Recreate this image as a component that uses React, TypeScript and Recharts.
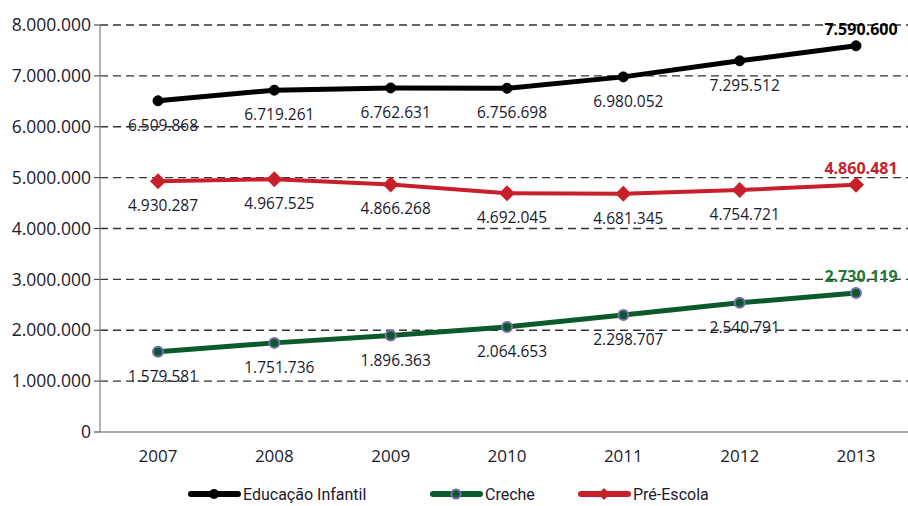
import { LineChart, Line, XAxis, YAxis, CartesianGrid, LabelList, Legend } from 'recharts'

const years = ['2007', '2008', '2009', '2010', '2011', '2012', '2013']
const educacaoInfantil = [6509868, 6719261, 6762631, 6756698, 6980052, 7295512, 7590600]
const preEscola = [4930287, 4967525, 4866268, 4692045, 4681345, 4754721, 4860481]
const creche = [1579581, 1751736, 1896363, 2064653, 2298707, 2540791, 2730119]
const yTicks = [0, 1000000, 2000000, 3000000, 4000000, 5000000, 6000000, 7000000, 8000000]

const data = years.map((year, i) => ({
  year,
  infantil: educacaoInfantil[i],
  pre: preEscola[i],
  creche: creche[i],
}))

const fmt = (v: number) => v.toLocaleString('de-DE')
const FONT = '"Open Sans", "Noto Sans", sans-serif'
const last = years.length - 1

const makeLabel = (color: string) => (props: any) => {
  const { x, y, value, index } = props
  if (index === last) {
    return (
      <text x={x + 5} y={y - 11} textAnchor="middle" fontFamily={FONT} fontSize={16} fontWeight="bold" fill={color}>
        {fmt(value)}
      </text>
    )
  }
  return (
    <text x={x + 5} y={y + 30} textAnchor="middle" fontFamily={FONT} fontSize={15.5} fill="#1a1a2e">
      {fmt(value)}
    </text>
  )
}

const Diamond = (props: any) => {
  const { cx, cy } = props
  if (cx == null || cy == null) return null
  return <path d={`M${cx},${cy - 8} L${cx + 8},${cy} L${cx},${cy + 8} L${cx - 8},${cy} Z`} fill="#c8202a" />
}

const legendItems = [
  { name: 'Educação Infantil', color: '#000', marker: 'dot', x: 188 },
  { name: 'Creche', color: '#0b5a2c', marker: 'ring', x: 430 },
  { name: 'Pré-Escola', color: '#c8202a', marker: 'diamond', x: 578 },
]

function LegendContent() {
  return (
    <svg width={908} height={24} style={{ display: 'block' }}>
      {legendItems.map((it) => (
        <g key={it.name}>
          <line x1={it.x + 3} y1={12} x2={it.x + 50} y2={12} stroke={it.color} strokeWidth={6} strokeLinecap="round" />
          {it.marker === 'dot' && <circle cx={it.x + 26} cy={12} r={5} fill={it.color} />}
          {it.marker === 'ring' && <circle cx={it.x + 26} cy={12} r={4.5} fill="#0b5a2c" stroke="#7a6cb0" strokeWidth={2} />}
          {it.marker === 'diamond' && (
            <path d={`M${it.x + 26},${6} L${it.x + 32},12 L${it.x + 26},18 L${it.x + 20},12 Z`} fill={it.color} />
          )}
          <text x={it.x + 55} y={18} fontFamily='Roboto, "Noto Sans", sans-serif' fontSize={16} fill="#1a1a2e">
            {it.name}
          </text>
        </g>
      ))}
    </svg>
  )
}

export default function App() {
  return (
    <div style={{ position: 'absolute', left: 0, top: 0, background: '#fff' }}>
      <LineChart width={908} height={506} data={data} margin={{ top: 25, right: 0, left: 0, bottom: 0 }}>
        <CartesianGrid vertical={false} stroke="#333" strokeDasharray="8 5" strokeWidth={1.3} />
        <XAxis
          dataKey="year"
          padding={{ left: 58, right: 52 }}
          axisLine={{ stroke: '#aaa', strokeWidth: 2 }}
          tickLine={false}
          tickMargin={12}
          height={50}
          tick={{ fontFamily: FONT, fontSize: 17, fill: '#1a1a2e' }}
        />
        <YAxis
          width={100}
          domain={[0, 8000000]}
          ticks={yTicks}
          tickFormatter={fmt}
          axisLine={{ stroke: '#999', strokeWidth: 1.5 }}
          tickLine={{ stroke: '#333' }}
          tickSize={6}
          tickMargin={3}
          tick={{ fontFamily: FONT, fontSize: 17.5, fill: '#1a1a2e' }}
        />
        <Legend verticalAlign="bottom" height={24} content={<LegendContent />} />
        <Line
          dataKey="infantil"
          name="Educação Infantil"
          stroke="#000"
          strokeWidth={5}
          dot={{ r: 5, fill: '#000', stroke: '#000', strokeWidth: 1 }}
          isAnimationActive={false}
        >
          <LabelList dataKey="infantil" content={makeLabel('#000')} />
        </Line>
        <Line
          dataKey="pre"
          name="Pré-Escola"
          stroke="#c8202a"
          strokeWidth={4}
          dot={<Diamond />}
          isAnimationActive={false}
        >
          <LabelList dataKey="pre" content={makeLabel('#c8202a')} />
        </Line>
        <Line
          dataKey="creche"
          name="Creche"
          stroke="#0b5a2c"
          strokeWidth={5}
          dot={{ r: 5, fill: '#0b5a2c', stroke: '#7a6cb0', strokeWidth: 2 }}
          isAnimationActive={false}
        >
          <LabelList dataKey="creche" content={makeLabel('#1f7a3a')} />
        </Line>
      </LineChart>
    </div>
  )
}
